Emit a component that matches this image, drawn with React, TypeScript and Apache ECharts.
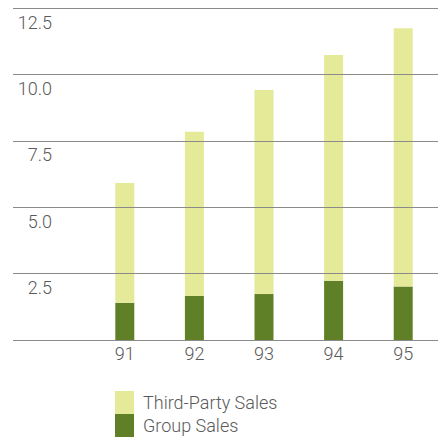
import React, { useEffect, useRef } from "react";
import * as echarts from "echarts";

const years = ["91", "92", "93", "94", "95"];
const groupSales = [1.4, 1.66, 1.73, 2.23, 2.01];
const thirdPartySales = [4.51, 6.18, 7.68, 8.5, 9.73];
const yTicks = { min: 0, max: 12.5, interval: 2.5 };

const FONT = "Roboto";
const TEXT = "#5a5a5a";

export default function App() {
  const ref = useRef<HTMLDivElement>(null);
  useEffect(() => {
    if (!ref.current) return;
    const chart = echarts.init(ref.current, null, { renderer: "svg" });
    chart.setOption({
      animation: false,
      grid: [
        { left: 13, right: 4, top: 8, bottom: 100 },
        { left: 90, right: 4, top: 8, bottom: 100 },
      ],
      legend: {
        orient: "vertical",
        left: 115,
        top: 391,
        padding: 0,
        itemGap: 0,
        itemWidth: 19,
        itemHeight: 23,
        icon: "rect",
        data: ["Third-Party Sales", "Group Sales"],
        textStyle: { fontFamily: FONT, fontWeight: 300, fontSize: 18, color: TEXT, padding: [10, 0, 0, 4] },
      },
      xAxis: [
        { type: "value", gridIndex: 0, show: false, min: 0, max: 1 },
        {
          type: "category",
          gridIndex: 1,
          data: years,
          axisLine: { show: false },
          axisTick: { show: false },
          axisLabel: { fontFamily: FONT, fontWeight: 300, fontSize: 18, color: TEXT, margin: 4 },
        },
      ],
      yAxis: [
        {
          type: "value",
          gridIndex: 0,
          min: yTicks.min,
          max: yTicks.max,
          interval: yTicks.interval,
          z: 10,
          axisLine: { show: false },
          axisTick: { show: false },
          splitLine: { show: true, lineStyle: { color: "#8a8a8a", width: 1 } },
          axisLabel: {
            inside: true,
            margin: 39,
            align: "right",
            showMinLabel: false,
            verticalAlign: "top",
            padding: [5, 0, 0, 0],
            fontFamily: FONT,
            fontWeight: 300,
            fontSize: 18,
            color: TEXT,
            formatter: (v: number) => v.toFixed(1),
          },
        },
        {
          type: "value",
          gridIndex: 1,
          min: yTicks.min,
          max: yTicks.max,
          interval: yTicks.interval,
          show: false,
          splitLine: { show: false },
        },
      ],
      series: [
        {
          name: "Group Sales",
          type: "bar",
          stack: "s",
          xAxisIndex: 1,
          yAxisIndex: 1,
          barWidth: 19,
          itemStyle: { color: "#5f8026" },
          data: groupSales,
        },
        {
          name: "Third-Party Sales",
          type: "bar",
          stack: "s",
          xAxisIndex: 1,
          yAxisIndex: 1,
          barWidth: 19,
          itemStyle: { color: "#e4ea98" },
          data: thirdPartySales,
        },
      ],
    });
    return () => chart.dispose();
  }, []);
  return <div ref={ref} style={{ width: 442, height: 440, position: "absolute", left: 0, top: 0 }} />;
}
